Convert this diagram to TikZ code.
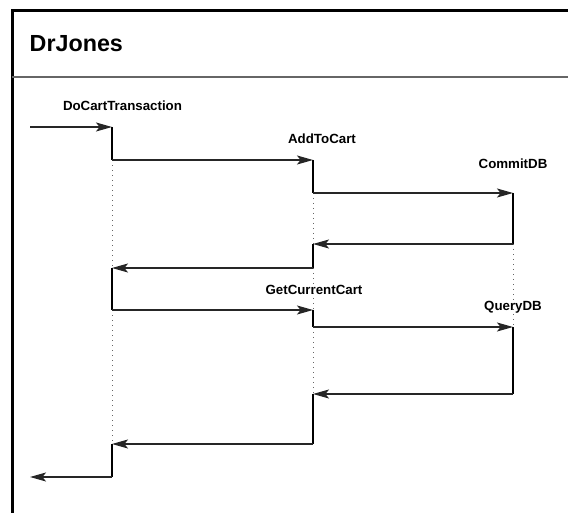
\documentclass[tikz,border=0pt]{standalone}
\usepackage{fontspec}
\setmainfont{Liberation Sans}
\usetikzlibrary{arrows.meta}
\begin{document}
\begin{tikzpicture}[x=1pt,y=-1pt,
  msg/.style={draw=black!85,line width=1.1pt,-{Stealth[length=16pt,width=9pt,inset=3.5pt]}},
  act/.style={draw=black,line width=1.6pt},
  lifedot/.style={draw=black!60,line width=1pt,dash pattern=on 1pt off 4pt},
  lbl/.style={font=\fontsize{13.3}{15}\selectfont\bfseries,inner sep=0pt},
  frameline/.style={draw=black,line width=3pt}]
\useasboundingbox (0,0) rectangle (568,513);
% frame
\draw[frameline] (12.5,10.7) -- (12.5,513);
\draw[frameline] (11,10.7) -- (568,10.7);
\draw[draw=black!60,line width=1.5pt] (12,77) -- (568,77);
\node[font=\fontsize{23.3}{27}\selectfont\bfseries,anchor=base west,inner sep=0pt] (title) at (29.5,52) {DrJones};
% points
\coordinate (in) at (30,127);
\coordinate (a0) at (112,127);
\coordinate (a1) at (112,160);
\coordinate (b1) at (313,160);
\coordinate (b2) at (313,193);
\coordinate (c2) at (513,193);
\coordinate (c3) at (513,244);
\coordinate (b3) at (313,244);
\coordinate (b4) at (313,268);
\coordinate (a4) at (112,268);
\coordinate (a5) at (112,310);
\coordinate (b5) at (313,310);
\coordinate (b6) at (313,327);
\coordinate (c6) at (513,327);
\coordinate (c7) at (513,394);
\coordinate (b7) at (313,394);
\coordinate (b8) at (313,444);
\coordinate (a8) at (112,444);
\coordinate (a9) at (112,477);
\coordinate (out) at (30,477);
% labels
\node[lbl] (lDo) at (122.5,106) {DoCartTransaction};
\node[lbl] (lAdd) at (322,139) {AddToCart};
\node[lbl] (lCommit) at (513,164) {CommitDB};
\node[lbl] (lGet) at (314,290) {GetCurrentCart};
\node[lbl] (lQuery) at (513,307) {QueryDB};
% dotted lifelines
\draw[lifedot] (a1) -- (a4);
\draw[lifedot] (a5) -- (a8);
\draw[lifedot] (b2) -- (b3);
\draw[lifedot] (b4) -- (b5);
\draw[lifedot] (b6) -- (b7);
\draw[lifedot] (c3) -- (c6);
% activations
\draw[act] (a0) -- (a1);
\draw[act] (b1) -- (b2);
\draw[act] (c2) -- (c3);
\draw[act] (b3) -- (b4);
\draw[act] (a4) -- (a5);
\draw[act] (b5) -- (b6);
\draw[act] (c6) -- (c7);
\draw[act] (b7) -- (b8);
\draw[act] (a8) -- (a9);
% messages
\draw[msg] (in) -- (a0);
\draw[msg] (a1) -- (b1);
\draw[msg] (b2) -- (c2);
\draw[msg] (c3) -- (b3);
\draw[msg] (b4) -- (a4);
\draw[msg] (a5) -- (b5);
\draw[msg] (b6) -- (c6);
\draw[msg] (c7) -- (b7);
\draw[msg] (b8) -- (a8);
\draw[msg] (a9) -- (out);
\end{tikzpicture}
\end{document}
